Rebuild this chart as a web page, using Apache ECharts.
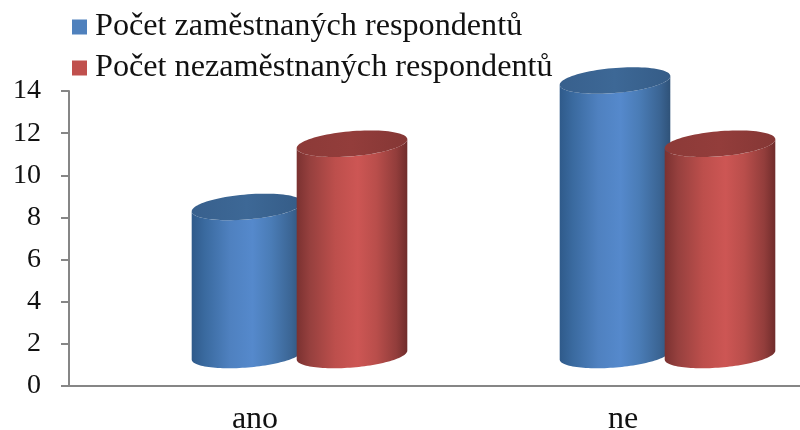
<!DOCTYPE html>
<html><head><meta charset="utf-8">
<style>html,body{margin:0;padding:0;background:#fff}#c{width:800px;height:430px}</style>
<script src="https://cdn.jsdelivr.net/npm/echarts@6/dist/echarts.min.js"></script>
</head><body><div id="c"></div>
<script>
const categories = ['ano', 'ne'];
const employed = [8, 14];
const unemployed = [11, 11];
const seriesNames = ['Počet zaměstnaných respondentů', 'Počet nezaměstnaných respondentů'];
const yTicks = { min: 0, max: 14, interval: 2 };

const FONT = '"Liberation Serif","Times New Roman",serif';
const AXIS = '#868686';
// 3D look: depth shift of the cylinders relative to the flat axes
const SHIFT_X = 46.5, SPACING = 105, RX = 55.5, RY = 12.5, TILT = 4.8 * Math.PI / 180;
const TOP_LIFT = 10.5, BASE_LIFT = 31;

function arc(cx, cy, from, to, n) {
  const pts = [];
  for (let i = 0; i <= n; i++) {
    const t = from + (to - from) * i / n;
    const x = RX * Math.cos(t), y = RY * Math.sin(t);
    pts.push([cx + x * Math.cos(TILT) + y * Math.sin(TILT), cy - x * Math.sin(TILT) + y * Math.cos(TILT)]);
  }
  return pts;
}
function cylinder(slot, stops, lid) {
  return function (params, api) {
    const p = api.coord([api.value(0), api.value(1)]);
    const base = api.coord([api.value(0), 0]);
    const cx = p[0] + SHIFT_X + slot * SPACING / 2;
    const top = p[1] - TOP_LIFT, bot = base[1] - BASE_LIFT;
    const bodyPts = arc(cx, top, Math.PI, 0, 40)
      .concat(arc(cx, bot, 0, Math.PI, 60));
    const bodyFill = new echarts.graphic.LinearGradient(
      cx - RX, 0, cx + RX, 0, stops.map(s => ({ offset: s[0], color: s[1] })), true);
    const lidFill = new echarts.graphic.LinearGradient(
      cx - RX, 0, cx + RX, 0, lid.map(s => ({ offset: s[0], color: s[1] })), true);
    return {
      type: 'group',
      children: [
        { type: 'polygon', shape: { points: bodyPts }, style: { fill: bodyFill } },
        { type: 'polygon', shape: { points: arc(cx, top, 0, Math.PI * 2, 90) }, style: { fill: lidFill } }
      ]
    };
  };
}
const blueStops = [[0, '#2f5a8a'], [0.12, '#3a6a9f'], [0.35, '#4f81c0'], [0.55, '#5589cc'], [0.72, '#4a7cb6'], [0.9, '#3b6594'], [1, '#2f5278']];
const redStops = [[0, '#7a3130'], [0.12, '#96403e'], [0.35, '#bd4f4c'], [0.55, '#cd5654'], [0.72, '#b94e4b'], [0.9, '#923d3b'], [1, '#6f2c2b']];
const blueLid = [[0, '#38608d'], [0.5, '#3d6896'], [1, '#355c87']];
const redLid = [[0, '#8c3a38'], [0.5, '#933d3b'], [1, '#853735']];

const chart = echarts.init(document.getElementById('c'), null, { renderer: 'canvas' });
chart.setOption({
  animation: false,
  backgroundColor: '#fff',
  grid: { left: 69, top: 91, width: 736, height: 295, outerBoundsMode: 'none' },
  legend: {
    orient: 'vertical', left: 67, top: 6, itemGap: 9,
    icon: 'rect', itemWidth: 15, itemHeight: 15,
    textStyle: { fontFamily: FONT, fontSize: 32.2, color: '#111', padding: [0, 0, 0, 3], lineHeight: 26 },
    data: seriesNames
  },
  xAxis: {
    type: 'category', data: categories, boundaryGap: true,
    axisLine: { lineStyle: { color: AXIS, width: 2 } },
    axisTick: { length: 8, lineStyle: { color: AXIS, width: 2 } },
    axisLabel: { fontFamily: FONT, fontSize: 32, color: '#111', margin: 18, padding: [0, 0, 0, 4] }
  },
  yAxis: {
    type: 'value', min: yTicks.min, max: yTicks.max, interval: yTicks.interval,
    splitLine: { show: false },
    axisLine: { show: true, lineStyle: { color: AXIS, width: 2 } },
    axisTick: { show: true, length: 8, lineStyle: { color: AXIS, width: 2 } },
    axisLabel: { fontFamily: FONT, fontSize: 28, color: '#111', margin: 28, padding: [3, 0, 0, 0] }
  },
  series: [
    { name: seriesNames[0], type: 'custom', clip: false, itemStyle: { color: '#4f81bd' },
      encode: { x: 0, y: 1 }, renderItem: cylinder(-1, blueStops, blueLid),
      data: categories.map((c, i) => [i, employed[i]]) },
    { name: seriesNames[1], type: 'custom', clip: false, itemStyle: { color: '#c0504d' },
      encode: { x: 0, y: 1 }, renderItem: cylinder(1, redStops, redLid),
      data: categories.map((c, i) => [i, unemployed[i]]) }
  ]
});
</script></body></html>
